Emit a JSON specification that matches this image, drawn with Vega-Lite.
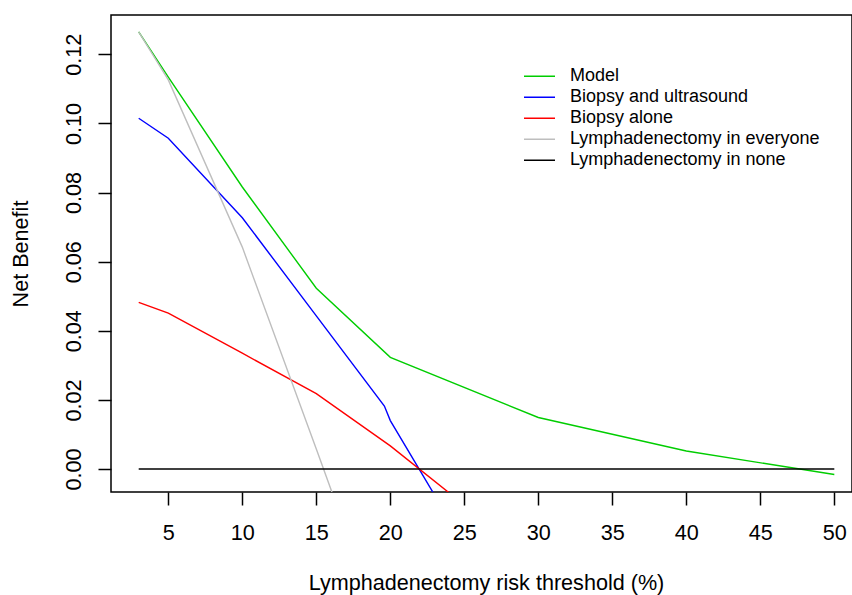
{
  "$schema": "https://vega.github.io/schema/vega-lite/v6.json",
  "width": 741,
  "height": 477,
  "autosize": {"type": "none"},
  "padding": {"left": 111, "top": 15, "right": 0, "bottom": 103},
  "background": "white",
  "config": {"view": {"stroke": "black", "strokeWidth": 1.5}, "font": "Liberation Sans"},
  "data": {
    "values": [
      {"strategy": "Model", "threshold": 3, "nb": 0.1265},
      {"strategy": "Model", "threshold": 5, "nb": 0.1134},
      {"strategy": "Model", "threshold": 10, "nb": 0.0816},
      {"strategy": "Model", "threshold": 15, "nb": 0.0523},
      {"strategy": "Model", "threshold": 20, "nb": 0.0323},
      {"strategy": "Model", "threshold": 30, "nb": 0.0149},
      {"strategy": "Model", "threshold": 40, "nb": 0.0052},
      {"strategy": "Model", "threshold": 50, "nb": -0.0016},
      {"strategy": "Biopsy and ultrasound", "threshold": 3, "nb": 0.1015},
      {"strategy": "Biopsy and ultrasound", "threshold": 5, "nb": 0.0957},
      {"strategy": "Biopsy and ultrasound", "threshold": 10, "nb": 0.0727},
      {"strategy": "Biopsy and ultrasound", "threshold": 15, "nb": 0.0443},
      {"strategy": "Biopsy and ultrasound", "threshold": 19.6, "nb": 0.0182},
      {"strategy": "Biopsy and ultrasound", "threshold": 20, "nb": 0.014},
      {"strategy": "Biopsy and ultrasound", "threshold": 25, "nb": -0.022},
      {"strategy": "Biopsy alone", "threshold": 3, "nb": 0.0482},
      {"strategy": "Biopsy alone", "threshold": 5, "nb": 0.0451},
      {"strategy": "Biopsy alone", "threshold": 10, "nb": 0.0335},
      {"strategy": "Biopsy alone", "threshold": 15, "nb": 0.0218},
      {"strategy": "Biopsy alone", "threshold": 20, "nb": 0.0067},
      {"strategy": "Biopsy alone", "threshold": 25, "nb": -0.0104},
      {"strategy": "Lymphadenectomy in everyone", "threshold": 3, "nb": 0.1265},
      {"strategy": "Lymphadenectomy in everyone", "threshold": 5, "nb": 0.1126},
      {"strategy": "Lymphadenectomy in everyone", "threshold": 10, "nb": 0.0642},
      {"strategy": "Lymphadenectomy in everyone", "threshold": 15, "nb": 0.0058},
      {"strategy": "Lymphadenectomy in everyone", "threshold": 20, "nb": -0.0534},
      {"strategy": "Lymphadenectomy in none", "threshold": 3, "nb": 0},
      {"strategy": "Lymphadenectomy in none", "threshold": 50, "nb": 0}
    ]
  },
  "mark": {"type": "line", "clip": true, "strokeWidth": 1.4},
  "encoding": {
    "x": {
      "field": "threshold",
      "type": "quantitative",
      "scale": {"domain": [1.128, 51.195], "nice": false, "zero": false},
      "axis": {
        "values": [5, 10, 15, 20, 25, 30, 35, 40, 45, 50],
        "tickSize": 13,
        "tickWidth": 1.5,
        "tickColor": "black",
        "domain": false,
        "grid": false,
        "labelFontSize": 21.6,
        "labelFont": "Liberation Sans",
        "labelColor": "black",
        "labelBaseline": "alphabetic",
        "labelPadding": 34,
        "labelFlush": false,
        "labelOverlap": false,
        "title": "Lymphadenectomy risk threshold (%)",
        "titleFont": "Liberation Sans",
        "titleFontSize": 21.6,
        "titleFontWeight": "normal",
        "titleColor": "black",
        "titleX": 375,
        "titleY": 97.5,
        "titleAlign": "center",
        "titleBaseline": "alphabetic"
      }
    },
    "y": {
      "field": "nb",
      "type": "quantitative",
      "scale": {"domain": [-0.006655, 0.13137], "nice": false, "zero": false},
      "axis": {
        "values": [0, 0.02, 0.04, 0.06, 0.08, 0.1, 0.12],
        "format": ".2f",
        "tickSize": 13,
        "tickWidth": 1.5,
        "tickColor": "black",
        "domain": false,
        "grid": false,
        "labelFontSize": 21.6,
        "labelFont": "Liberation Sans",
        "labelColor": "black",
        "labelAngle": 270,
        "labelAlign": "center",
        "labelBaseline": "alphabetic",
        "labelPadding": 18,
        "labelFlush": false,
        "labelOverlap": false,
        "title": "Net Benefit",
        "titleFont": "Liberation Sans",
        "titleFontSize": 21.6,
        "titleFontWeight": "normal",
        "titleColor": "black",
        "titleAngle": 270,
        "titleX": -84,
        "titleY": 238.5,
        "titleAlign": "center",
        "titleBaseline": "alphabetic"
      }
    },
    "color": {
      "field": "strategy",
      "type": "nominal",
      "scale": {
        "domain": ["Model", "Biopsy and ultrasound", "Biopsy alone", "Lymphadenectomy in everyone", "Lymphadenectomy in none"],
        "range": ["#00CD00", "#0000FF", "#FF0000", "#BEBEBE", "#000000"]
      },
      "legend": {
        "orient": "none",
        "legendX": 412,
        "legendY": 50.7,
        "title": null,
        "symbolType": "stroke",
        "symbolSize": 961,
        "symbolStrokeWidth": 1.5,
        "labelFontSize": 18,
        "labelFont": "Liberation Sans",
        "labelColor": "black",
        "labelOffset": 14,
        "labelLimit": 400,
        "clipHeight": 21,
        "rowPadding": 0,
        "padding": 0
      }
    }
  }
}
